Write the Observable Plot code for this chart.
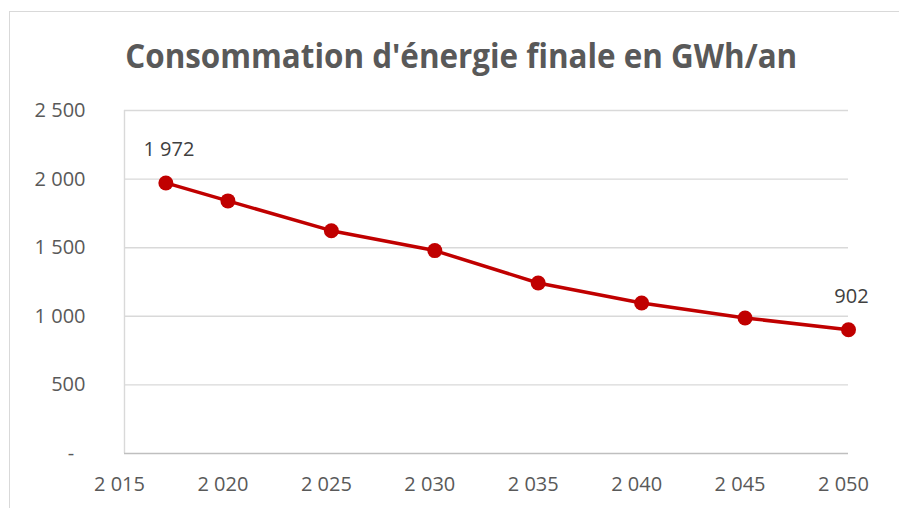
<!DOCTYPE html>
<html>
<head>
<meta charset="utf-8">
<script src="https://cdn.jsdelivr.net/npm/d3@7"></script>
<script src="https://cdn.jsdelivr.net/npm/@observablehq/plot@0.6"></script>
<style>
  html, body { margin: 0; padding: 0; background: #fff; overflow: hidden; }
  #wrap { position: relative; width: 899px; height: 508px; overflow: hidden; }
  #frame { position: absolute; left: 9px; top: 11px; width: 1000px; height: 1000px; border: 1.3px solid #d9d9d9; box-sizing: border-box; }
  #title { position: absolute; top: 38px; left: 12px; width: 899px; text-align: center; pointer-events: none; }
  #title span { display: inline-block; font-family: "Open Sans", sans-serif; font-weight: 700; font-size: 34px; line-height: 1; color: #595959; white-space: nowrap; transform-origin: center; }
  #chart { position: absolute; left: 0; top: 0; }
</style>
</head>
<body>
<div id="wrap">
  <div id="frame"></div>
  <div id="chart"></div>
  <div id="title"><span id="titleText">Consommation d'énergie finale en GWh/an</span></div>
</div>
<script>
const years = [2017, 2020, 2025, 2030, 2035, 2040, 2045, 2050];
const values = [1972, 1841, 1624, 1479, 1243, 1097, 988, 902];
const xTicks = [2015, 2020, 2025, 2030, 2035, 2040, 2045, 2050];
const yTicks = [0, 500, 1000, 1500, 2000, 2500];
const labeledYears = [2017, 2050];

const data = years.map((y, i) => ({year: y, value: values[i]}));
const labeled = data.filter(d => labeledYears.includes(d.year));

const fr = d3.formatLocale({thousands: " ", grouping: [3], decimal: ","}).format(",");
const fmtY = n => n === 0 ? "-\u2007" : fr(n);

const chart = Plot.plot({
  width: 899,
  height: 508,
  marginLeft: 124,
  marginRight: 51,
  marginTop: 110,
  marginBottom: 55,
  style: {fontFamily: "'Open Sans', sans-serif", fontSize: "20px", color: "#595959", background: "transparent"},
  x: {domain: [2015, 2050]},
  y: {domain: [0, 2500]},
  marks: [
    Plot.gridY(yTicks.filter(t => t > 0), {stroke: "#d9d9d9", strokeOpacity: 1, strokeWidth: 1.4}),
    Plot.ruleX([2015], {stroke: "#d9d9d9", strokeWidth: 1.4}),
    Plot.ruleY([0], {stroke: "#bfbfbf", strokeWidth: 1.5}),
    Plot.axisY(yTicks, {tickSize: 0, tickPadding: 39, tickFormat: fmtY, fontSize: 20, fill: "#595959", label: null}),
    Plot.axisX(xTicks, {tickSize: 0, tickPadding: 23, tickFormat: fr, fontSize: 20, fill: "#595959", dx: -5, label: null}),
    Plot.line(data, {x: "year", y: "value", stroke: "#c00000", strokeWidth: 3.5}),
    Plot.dot(data, {x: "year", y: "value", r: 7.5, fill: "#c00000", stroke: "none"}),
    Plot.text(labeled, {x: "year", y: "value", text: d => fr(d.value), dy: -33, dx: 3, fontSize: 20, fill: "#404040"})
  ]
});
document.getElementById("chart").appendChild(chart);

const t = document.getElementById("titleText");
const w = t.getBoundingClientRect().width;
t.style.transform = `scaleX(${672 / w})`;
</script>
</body>
</html>
